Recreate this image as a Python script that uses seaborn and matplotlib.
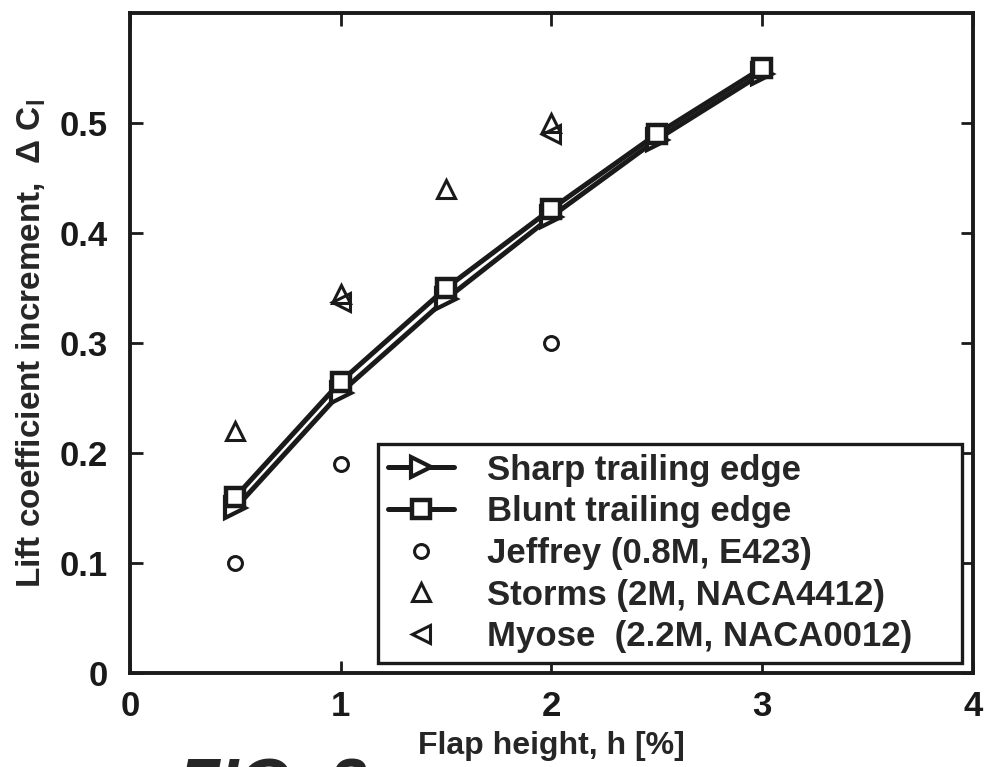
import matplotlib
matplotlib.use("Agg")
import matplotlib.pyplot as plt
import seaborn as sns
import numpy as np

sns.set_theme(style="white")
plt.rcParams['font.family'] = ['Liberation Sans', 'DejaVu Sans']
plt.rcParams['font.weight'] = 'bold'
plt.rcParams['mathtext.fontset'] = 'custom'
plt.rcParams['mathtext.rm'] = 'Liberation Sans:bold'
plt.rcParams['mathtext.it'] = 'Liberation Sans:bold'

# data
flap_h = [0.5, 1.0, 1.5, 2.0, 2.5, 3.0]
sharp_dcl = [0.150, 0.255, 0.340, 0.415, 0.485, 0.545]
blunt_dcl = [0.160, 0.265, 0.350, 0.422, 0.490, 0.550]
jeffrey_h = [0.5, 1.0, 2.0]
jeffrey_dcl = [0.100, 0.190, 0.300]
storms_h = [0.5, 1.0, 1.5, 2.0]
storms_dcl = [0.220, 0.345, 0.440, 0.500]
myose_h = [1.0, 2.0]
myose_dcl = [0.337, 0.490]

labels = ["Sharp trailing edge", "Blunt trailing edge",
          "Jeffrey (0.8M, E423)", "Storms (2M, NACA4412)",
          "Myose  (2.2M, NACA0012)"]
x_ticks = [0, 1, 2, 3, 4]
y_ticks = [0, 0.1, 0.2, 0.3, 0.4, 0.5]
y_ticklabels = ["0", "0.1", "0.2", "0.3", "0.4", "0.5"]

W, H = 987, 767
fig = plt.figure(figsize=(W / 100, H / 100), dpi=100)
ax = fig.add_axes([130 / W, 1 - 673 / H, (973 - 130) / W, (673 - 13) / H])

sns.lineplot(x=flap_h, y=sharp_dcl, ax=ax, color='k', linewidth=3.6,
             marker='>', markersize=15, markerfacecolor='white',
             markeredgecolor='k', markeredgewidth=3, label=labels[0])
sns.lineplot(x=flap_h, y=blunt_dcl, ax=ax, color='k', linewidth=3.6,
             marker='s', markersize=13, markerfacecolor='white',
             markeredgecolor='k', markeredgewidth=3.2, label=labels[1])
sns.lineplot(x=jeffrey_h, y=jeffrey_dcl, ax=ax, color='k', linestyle='',
             marker='o', markersize=10, markerfacecolor='none',
             markeredgecolor='k', markeredgewidth=2.2, label=labels[2])
sns.lineplot(x=storms_h, y=storms_dcl, ax=ax, color='k', linestyle='',
             marker='^', markersize=13, markerfacecolor='none',
             markeredgecolor='k', markeredgewidth=2.2, label=labels[3])
sns.lineplot(x=myose_h, y=myose_dcl, ax=ax, color='k', linestyle='',
             marker='<', markersize=13, markerfacecolor='none',
             markeredgecolor='k', markeredgewidth=2.2, label=labels[4])

ax.set_xlim(0, 4)
ax.set_ylim(0, 0.6)
ax.set_xticks(x_ticks)
ax.set_xticklabels([str(v) for v in x_ticks], fontsize=25, fontweight='bold')
ax.set_yticks(y_ticks)
ax.set_yticklabels(y_ticklabels, fontsize=25, fontweight='bold')
ax.tick_params(direction='in', length=9, width=2, top=True, right=True,
               bottom=True, left=True, colors='k')
ax.tick_params(axis='y', pad=16)
ax.tick_params(axis='x', pad=12)
for s in ax.spines.values():
    s.set_visible(True)
    s.set_color('k')
    s.set_linewidth(2.8)

ax.set_xlabel("Flap height, h [%]", fontsize=23, fontweight='bold', labelpad=6)
ax.set_ylabel("Lift coefficient increment,  Δ C$_{\\mathregular{l}}$",
              fontsize=24, fontweight='bold', labelpad=8)

leg = ax.legend(loc='lower left', bbox_to_anchor=((378 - 130) / (973 - 130), (673 - 663) / (673 - 13),
                                                   (962 - 378) / (973 - 130), (663 - 443) / (673 - 13)),
                mode='expand', fontsize=25, frameon=True, fancybox=False,
                handlelength=1.9, borderaxespad=0, labelspacing=0.25,
                borderpad=0.28, handletextpad=0.95)
leg.get_frame().set_edgecolor('k')
leg.get_frame().set_linewidth(2.4)
leg.get_frame().set_alpha(1)
for t in leg.get_texts():
    t.set_fontweight('bold')

fig.text(178 / W, 1 - 806 / H, "FIG. 2", fontsize=49, fontweight='bold',
         fontstyle='italic', ha='left', va='baseline')

fig.savefig("out.png", dpi=100)
